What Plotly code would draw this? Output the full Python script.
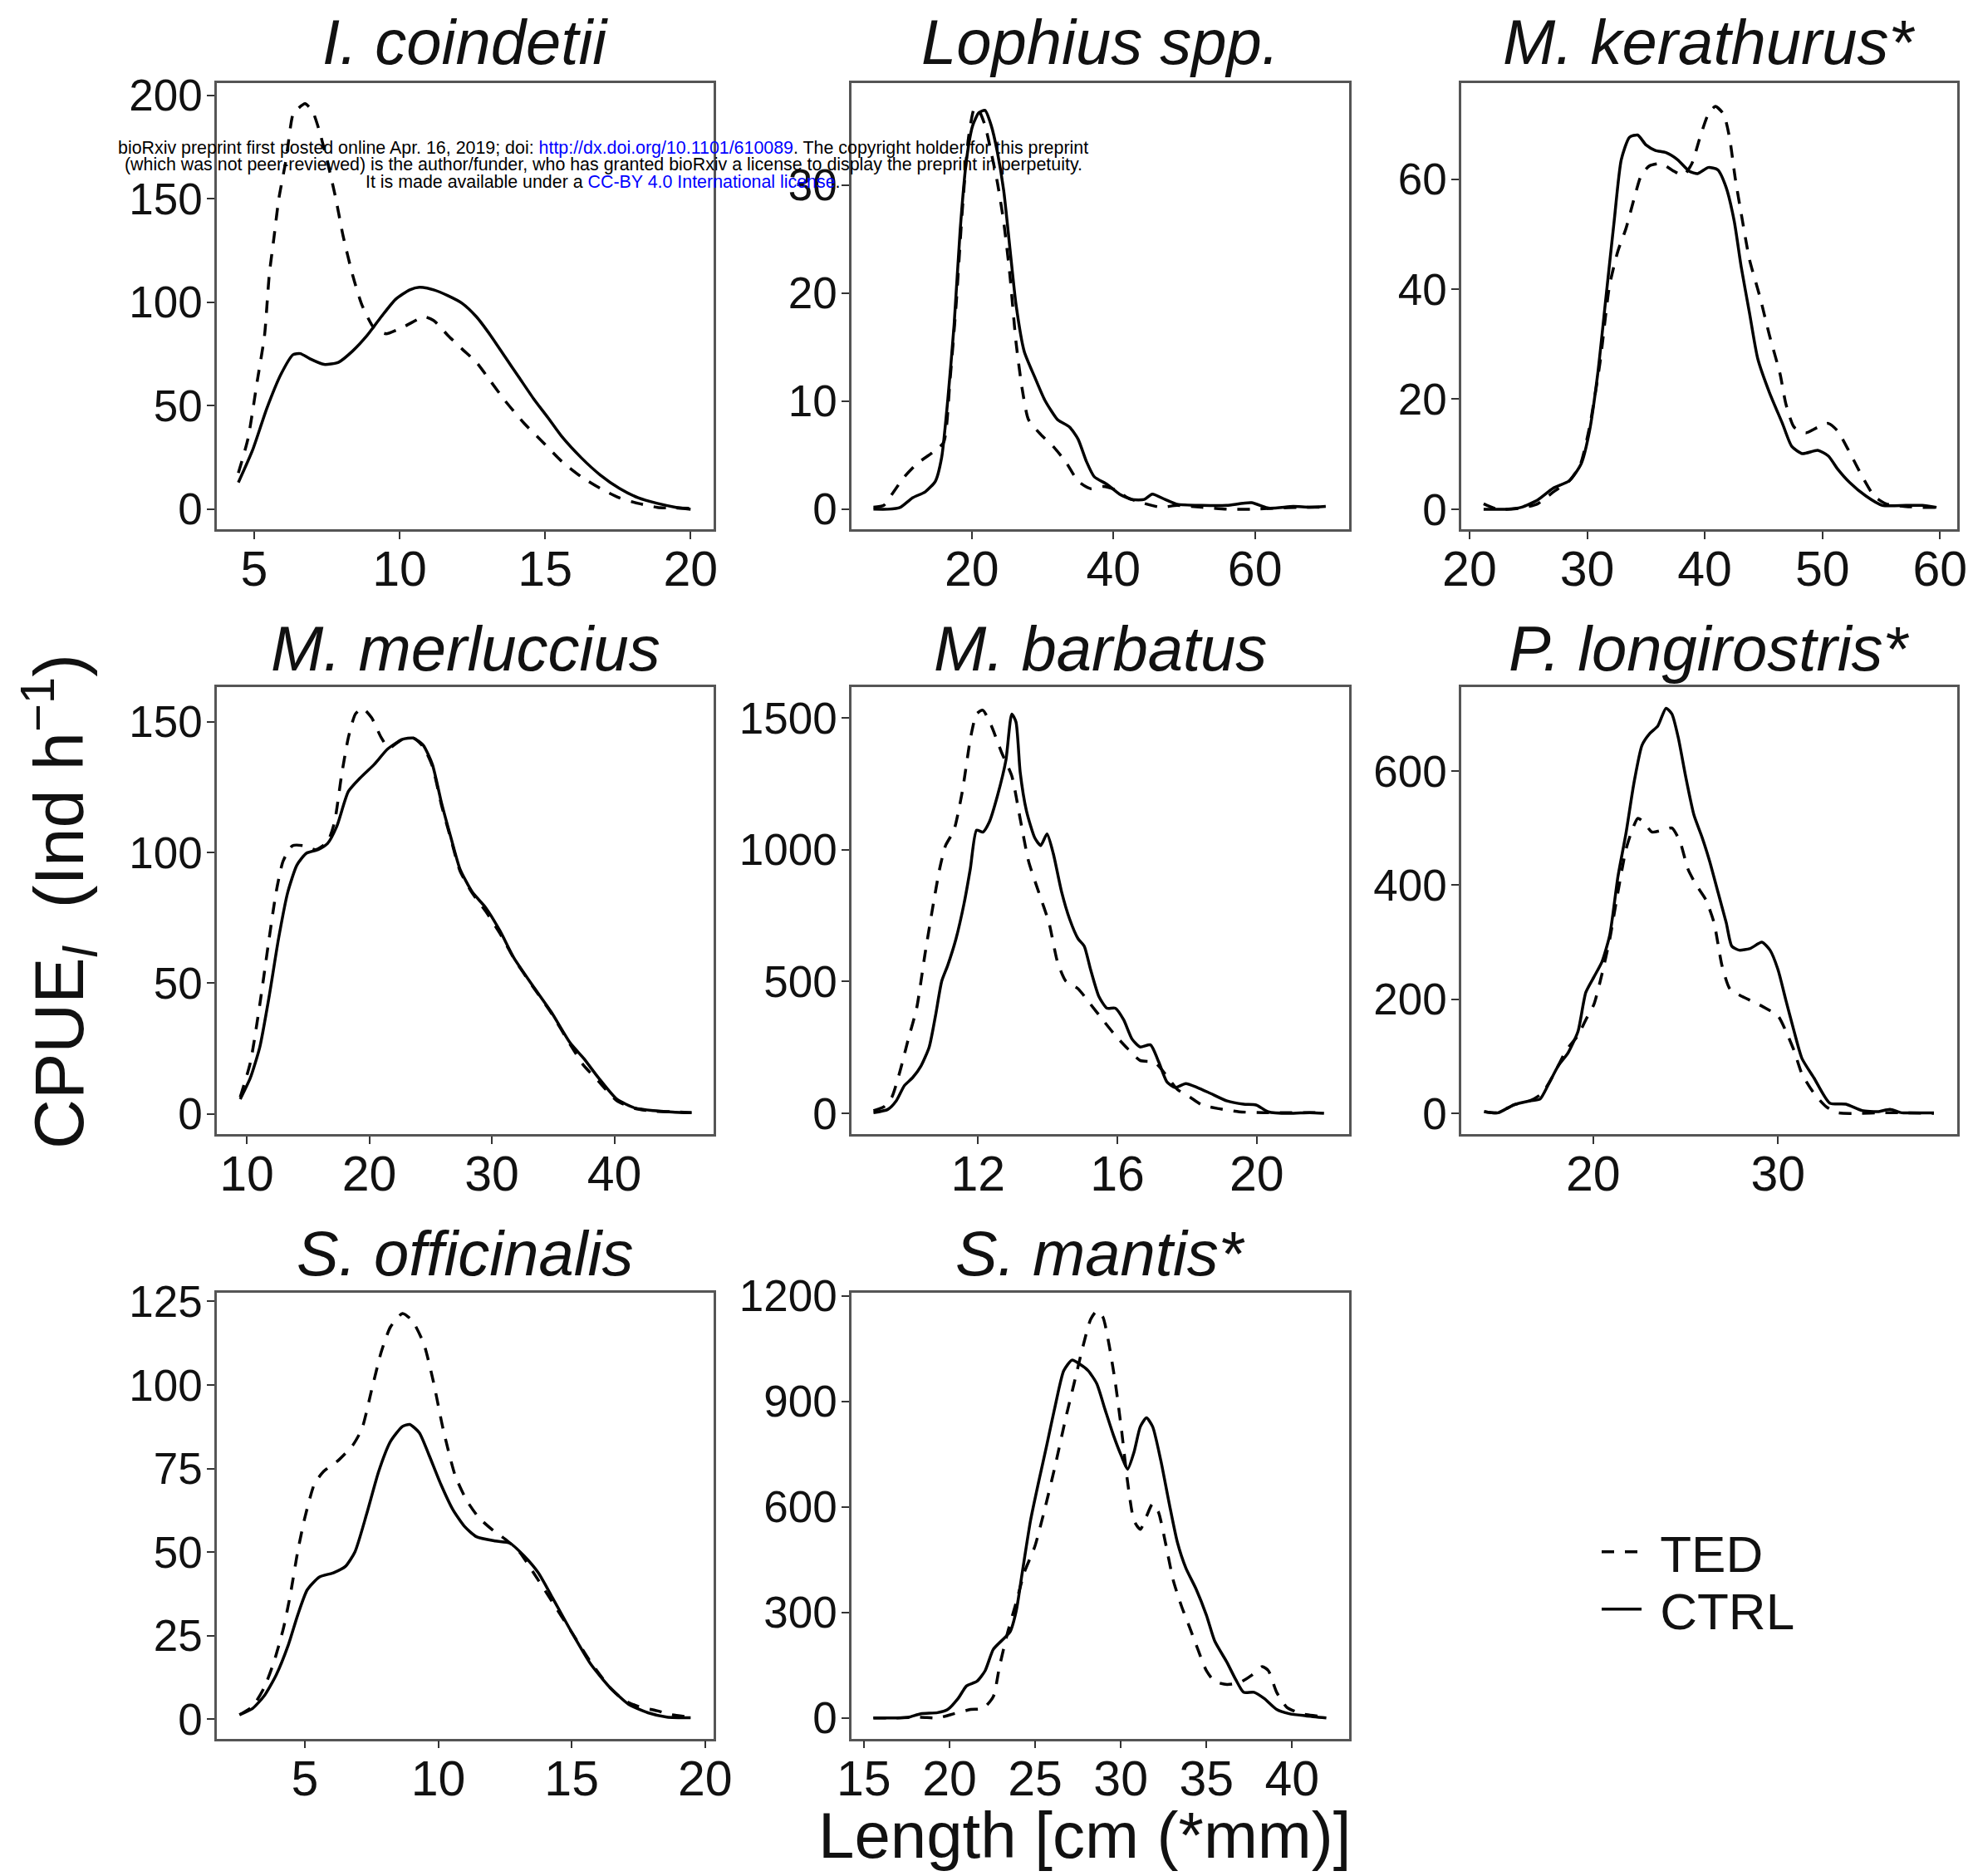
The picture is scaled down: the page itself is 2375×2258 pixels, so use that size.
import plotly.graph_objects as go

W, H = 2375, 2258

# ---------------- data ----------------
species = ["I. coindetii", "Lophius spp.", "M. kerathurus*", "M. merluccius",
           "M. barbatus", "P. longirostris*", "S. officinalis", "S. mantis*"]
series_names = ["TED", "CTRL"]

ic_len_ted = [4.46, 4.79, 5.11, 5.36, 5.52, 5.69, 5.85, 6.1, 6.34, 6.5, 6.75, 7.0, 7.24, 7.57, 7.81, 8.06, 8.39, 8.71,
              9.12, 9.53, 10.19, 10.84, 11.17, 11.66, 12.15, 12.64, 13.13, 13.62, 14.28, 14.93, 15.58, 16.24, 16.89,
              17.55, 18.2, 18.86, 19.5, 20.0]
ic_ted = [17.5, 34, 62, 84, 113, 132, 150, 169, 191, 193.5, 196, 192.6, 183, 165, 150, 132, 113, 98.6, 87.6, 84.8,
          88.5, 93, 91.2, 84, 77.4, 71, 61.8, 52.5, 41.5, 32.3, 23, 15.7, 10.1, 5.5, 2.8, 0.9, 0.55, 0.5]
ic_len_ctrl = [4.46, 4.95, 5.44, 5.93, 6.34, 6.59, 6.91, 7.4, 7.9, 8.39, 8.88, 9.37, 9.86, 10.35, 10.68, 11.17, 11.66,
               12.15, 12.64, 13.13, 13.62, 14.11, 14.6, 15.1, 15.58, 16.24, 16.89, 17.55, 18.2, 18.86, 19.5, 20.0]
ic_ctrl = [12.9, 28.6, 48.8, 65.4, 74.7, 75.2, 72.8, 70, 71, 76.5, 83.9, 93, 101.4, 106, 107.3, 106, 103.2, 99.5, 93,
           83.9, 73.7, 63.6, 53.5, 44.2, 35, 24.9, 16.6, 10.1, 5.5, 2.8, 0.9, 0]

lo_len_ted = [6.1, 7.56, 8.73, 10.48, 12.23, 14.57, 16.03, 16.9, 17.78, 18.66, 19.53, 20.41, 21.0, 21.87, 22.74, 23.62,
              24.5, 25.37, 26.25, 27.12, 28.0, 29.75, 31.5, 33.25, 35.0, 36.76, 38.5, 40.26, 42.0, 44.35, 46.7, 49.0,
              52.5, 56.0, 59.5, 63.0, 66.5, 70.0]
lo_ted = [0.18, 0.35, 1.4, 3.0, 4.2, 5.3, 6.2, 11.8, 18.9, 27.7, 34.4, 37.2, 36.9, 35.5, 33, 30.2, 26.6, 21.7, 15.4,
          11.1, 8.3, 6.9, 5.8, 4.4, 2.6, 1.9, 2.1, 1.8, 1.06, 0.53, 0.18, 0.35, 0.18, 0, 0, 0.1, 0.18, 0.18]
lo_len_ctrl = [6.1, 8.15, 9.9, 11.65, 13.4, 14.86, 15.74, 16.6, 17.5, 18.36, 19.24, 20.12, 21.0, 21.87, 22.74, 23.62,
               24.5, 25.37, 26.25, 27.4, 28.9, 30.3, 32.1, 33.8, 35.0, 36.2, 37.3, 39.1, 40.85, 42.6, 44.35, 45.5,
               47.3, 49.0, 52.5, 56.0, 59.5, 61.9, 65.4, 67.7, 70.0]
lo_ctrl = [0, 0, 0.18, 1.06, 1.6, 2.6, 4.8, 10.1, 17.1, 25.9, 32.3, 35.5, 36.7, 36.9, 35.5, 33, 29.5, 24.2, 18.9, 14.6,
           12.2, 10.1, 8.3, 7.6, 6.5, 4.4, 3.0, 2.3, 1.4, 0.9, 0.9, 1.4, 0.9, 0.46, 0.35, 0.35, 0.6, 0.1, 0.25, 0.18,
           0.25]

mk_len_ted = [21.2, 22.4, 24.4, 25.8, 27.1, 28.5, 29.4, 30.2, 31.1, 31.9, 32.6, 33.3, 34.0, 34.6, 35.3, 36.3, 37.4,
              38.2, 38.9, 39.6, 40.3, 40.9, 41.6, 42.1, 42.6, 43.1, 43.8, 44.7, 45.5, 46.4, 46.9, 47.6, 48.6, 49.6,
              50.5, 51.3, 52.3, 53.4, 54.4, 55.4, 57.1, 58.5, 59.7]
mk_ted = [1.0, 0, 0.2, 1.0, 3.1, 5.2, 8.0, 14.9, 26.7, 40.6, 46.8, 51, 56.5, 60.7, 62.4, 62.8, 61.4, 60.7, 62.8, 67.6,
          71.8, 73.2, 71.8, 67.6, 60, 53.7, 45.4, 38.5, 31.6, 24.6, 19.1, 14.9, 13.9, 14.9, 15.6, 14.2, 10.4, 5.9, 2.4,
          1.0, 0.5, 0.35, 0.35]
mk_len_ctrl = [21.2, 23.1, 24.4, 25.8, 27.1, 28.5, 29.5, 30.2, 30.9, 31.6, 32.3, 32.9, 33.6, 34.3, 35.0, 35.8, 36.7,
               37.7, 38.7, 39.4, 40.3, 41.1, 41.8, 42.5, 43.1, 43.8, 44.5, 45.5, 46.6, 47.4, 48.3, 49.6, 50.5, 51.3,
               52.3, 53.7, 55.1, 57.1, 58.5, 59.7]
mk_ctrl = [0, 0, 0.35, 1.7, 3.8, 5.2, 8.3, 14.2, 24.6, 38.5, 52.4, 63.5, 67.6, 68, 66.2, 65.2, 64.8, 63.5, 61.4, 61,
           62.1, 61.7, 58.6, 52.4, 44, 35.7, 27.4, 21.2, 15.6, 11.4, 10.1, 10.7, 9.7, 7.3, 4.9, 2.4, 0.7, 0.7, 0.7,
           0.35]

mm_len_ted = [9.47, 10.3, 11.07, 11.83, 12.4, 12.97, 13.73, 14.68, 15.63, 16.59, 17.16, 17.73, 18.3, 18.87, 19.44,
              20.2, 20.96, 21.6, 22.7, 23.6, 24.4, 25.15, 25.9, 26.67, 27.4, 28.4, 29.5, 30.67, 31.8, 33.3, 34.86,
              36.4, 37.5, 38.7, 40.2, 41.7, 43.2, 44.75, 46.3]
mm_ted = [6.4, 19.7, 41.9, 67.1, 84.8, 96.7, 102.6, 102.6, 101.1, 104.1, 111.5, 129.3, 144.1, 153, 155.2, 151.5,
          144.1, 140, 143.3, 143.8, 140.5, 133, 118, 105, 93, 84.5, 77.5, 69, 59.5, 49, 38.5, 26.5, 18.5, 12.5, 5.0,
          2.0, 1.0, 0.8, 0.4]
mm_len_ctrl = [9.47, 10.3, 11.07, 11.83, 12.6, 13.35, 14.1, 14.87, 15.82, 16.59, 17.35, 18.3, 19.25, 20.4, 21.5, 22.7,
               23.6, 24.4, 25.15, 25.9, 26.67, 27.4, 28.4, 29.5, 30.67, 31.8, 33.3, 34.86, 36.4, 37.5, 38.7, 40.2,
               41.7, 43.2, 44.75, 46.3]
mm_ctrl = [5.6, 13.8, 25.6, 44.9, 67.1, 84.8, 95.2, 99.7, 101.1, 103.4, 110, 123.4, 128.5, 133.7, 139.6, 143.3, 143.8,
           141.1, 133.7, 118.9, 105.6, 93.7, 84.9, 78.9, 70, 59.7, 49.3, 38.9, 27.1, 21.2, 13.8, 5.6, 2.2, 1.2, 0.7,
           0.4]

mb_len_ted = [9.0, 9.3, 9.53, 9.77, 10.0, 10.24, 10.48, 10.72, 10.9, 11.07, 11.31, 11.55, 11.79, 11.96, 12.14, 12.38,
              12.68, 12.97, 13.21, 13.45, 13.74, 14.04, 14.28, 14.52, 14.87, 15.23, 15.58, 15.94, 16.3, 16.65, 17.07,
              17.37, 17.72, 18.08, 18.43, 18.91, 19.5, 20.2, 21.0, 21.93]
mb_ted = [10, 25, 62, 164, 282, 399, 605, 796, 928, 1016, 1074, 1221, 1427, 1515, 1529, 1471, 1368, 1280, 1118, 957,
          840, 722, 575, 502, 473, 414, 355, 296, 245, 201, 194, 150, 91, 62, 32, 18, 6, 3, 3, 3]
mb_len_ctrl = [9.0, 9.41, 9.65, 9.89, 10.12, 10.36, 10.6, 10.78, 10.96, 11.13, 11.37, 11.6, 11.78, 11.96, 12.14,
               12.32, 12.56, 12.8, 12.97, 13.09, 13.21, 13.39, 13.63, 13.8, 13.98, 14.16, 14.4, 14.63, 14.87, 15.05,
               15.23, 15.47, 15.7, 15.94, 16.18, 16.42, 16.65, 16.95, 17.19, 17.42, 17.66, 17.96, 18.3, 18.67, 19.15,
               19.62, 19.98, 20.33, 20.93, 21.52, 21.93]
mb_ctrl = [3, 15, 47, 106, 135, 179, 252, 370, 502, 561, 663, 796, 928, 1074, 1067, 1104, 1206, 1339, 1515, 1485, 1295,
           1148, 1045, 1016, 1060, 986, 840, 737, 663, 634, 546, 443, 399, 399, 355, 282, 252, 260, 194, 120, 98, 113,
           98, 76, 47, 35, 32, 6, 0, 3, 0]

pl_len_ted = [14.1, 14.85, 15.7, 16.58, 17.23, 17.88, 18.53, 19.18, 19.6, 20.04, 20.48, 20.9, 21.34, 21.77, 22.1,
              22.42, 22.75, 23.18, 23.72, 24.26, 24.7, 25.13, 25.56, 26.1, 26.54, 26.97, 27.4, 28.05, 28.7, 29.35,
              30.0, 30.43, 30.87, 31.3, 31.95, 32.6, 33.25, 34.33, 35.63, 36.93, 38.44]
pl_ted = [3, 1, 15, 22, 35, 69, 110, 137, 164, 191, 245, 306, 388, 462, 496, 517, 510, 493, 496, 500, 476, 428, 401,
          374, 334, 259, 218, 205, 195, 184, 171, 144, 110, 69, 35, 12, 1, 0, 1, 1, 0]
pl_len_ctrl = [14.1, 14.85, 15.7, 16.58, 17.12, 17.55, 18.1, 18.64, 19.18, 19.6, 20.04, 20.48, 20.9, 21.34, 21.77,
               22.2, 22.64, 23.07, 23.5, 23.94, 24.26, 24.6, 25.0, 25.45, 25.9, 26.3, 26.75, 27.2, 27.5, 27.9, 28.5,
               29.13, 29.57, 30.0, 30.43, 30.87, 31.3, 31.95, 32.8, 33.68, 34.55, 35.4, 36.06, 36.7, 37.57, 38.44]
pl_ctrl = [3, 1, 15, 22, 25, 49, 83, 106, 144, 212, 239, 266, 313, 415, 490, 578, 645, 666, 679, 710, 700, 659, 591,
           523, 483, 442, 388, 334, 293, 286, 289, 300, 286, 252, 198, 144, 96, 62, 18, 16, 5, 3, 7, 1, 1, 1]

so_len_ted = [2.55, 3.04, 3.48, 3.84, 4.2, 4.46, 4.73, 5.0, 5.36, 5.71, 6.25, 6.79, 7.14, 7.5, 7.86, 8.21, 8.66, 9.02,
              9.46, 9.82, 10.18, 10.63, 11.07, 11.52, 12.05, 12.5, 13.04, 13.57, 14.29, 15.0, 15.71, 16.43, 16.96,
              17.5, 18.2, 18.75, 19.46]
so_ted = [1.3, 3.8, 9.5, 17.1, 27.3, 37.4, 50.1, 60.3, 70.4, 74.2, 77.4, 81.9, 86.9, 98.4, 109.8, 117.4, 121.4, 119.3,
          112.3, 100.9, 86.9, 73, 65.4, 60.3, 56.5, 53.9, 50.1, 43.8, 34.9, 26, 17.1, 9.5, 5.7, 3.8, 2.5, 1.3, 0.6]
so_len_ctrl = [2.55, 3.04, 3.48, 3.93, 4.38, 4.73, 5.09, 5.54, 6.07, 6.52, 6.88, 7.32, 7.77, 8.21, 8.66, 8.93, 9.29,
               9.64, 10.09, 10.54, 10.98, 11.43, 12.14, 12.68, 13.21, 13.75, 14.29, 15.0, 15.71, 16.43, 17.14, 17.86,
               18.57, 19.46]
so_ctrl = [1.3, 3.2, 7, 13.3, 22.2, 31.1, 38.7, 42.5, 43.8, 45.7, 50.1, 61.5, 74.2, 83.1, 87.6, 88.2, 85.7, 79.3, 70.4,
           62.8, 57.7, 54.6, 53.3, 52.7, 48.9, 43.8, 36.2, 26, 16.5, 9.5, 4.4, 1.9, 0.6, 0.4]

sm_len_ted = [15.56, 16.9, 18.33, 19.3, 20.27, 21.23, 21.96, 22.56, 22.92, 23.4, 23.9, 24.37, 24.98, 25.58, 26.18,
              26.79, 27.27, 27.75, 28.24, 28.6, 28.96, 29.32, 29.69, 30.05, 30.4, 30.77, 31.14, 31.5, 31.86, 32.2,
              32.6, 33.07, 33.55, 34.03, 34.5, 35.0, 35.48, 36.2, 36.93, 37.66, 38.26, 38.62, 39.1, 39.7, 40.56, 41.5,
              42.0]
sm_ted = [0, 0, 2, 0, 12, 24, 27, 61, 146, 244, 329, 414, 487, 597, 719, 853, 950, 1048, 1133, 1157, 1139, 1060, 950,
          816, 670, 561, 536, 573, 609, 585, 500, 390, 317, 256, 195, 134, 104, 95, 100, 122, 146, 134, 73, 30, 12, 5,
          0]
sm_len_ctrl = [15.56, 16.9, 17.6, 18.33, 19.3, 19.9, 20.5, 21.0, 21.6, 22.08, 22.56, 23.16, 23.53, 23.9, 24.25, 24.73,
               25.2, 25.7, 26.18, 26.67, 27.15, 27.63, 28.1, 28.6, 29.08, 29.57, 30.05, 30.4, 30.77, 31.14, 31.5,
               31.86, 32.34, 32.83, 33.3, 33.8, 34.4, 35.0, 35.48, 36.2, 36.7, 37.17, 37.78, 38.38, 39.1, 39.83, 40.8,
               42.0]
sm_ctrl = [0, 0, 2, 12, 15, 24, 55, 91, 104, 134, 195, 225, 244, 305, 414, 561, 670, 780, 889, 987, 1017, 1005, 987,
           950, 877, 804, 743, 707, 755, 828, 853, 828, 731, 609, 500, 426, 366, 292, 219, 158, 110, 73, 73, 55, 24,
           12, 6, 0]

ic_xticks = [5, 10, 15, 20];        ic_yticks = [0, 50, 100, 150, 200]
lo_xticks = [20, 40, 60];           lo_yticks = [0, 10, 20, 30]
mk_xticks = [20, 30, 40, 50, 60];   mk_yticks = [0, 20, 40, 60]
mm_xticks = [10, 20, 30, 40];       mm_yticks = [0, 50, 100, 150]
mb_xticks = [12, 16, 20];           mb_yticks = [0, 500, 1000, 1500]
pl_xticks = [20, 30];               pl_yticks = [0, 200, 400, 600]
so_xticks = [5, 10, 15, 20];        so_yticks = [0, 25, 50, 75, 100, 125]
sm_xticks = [15, 20, 25, 30, 35, 40]; sm_yticks = [0, 300, 600, 900, 1200]

x_title = "Length [cm (*mm)]"
y_title = "CPUE<sub><i>l</i></sub>\u00a0\u00a0(Ind h<sup>\u22121</sup>)"

panels = [
    (ic_len_ted, ic_ted, ic_len_ctrl, ic_ctrl, ic_xticks, ic_yticks),
    (lo_len_ted, lo_ted, lo_len_ctrl, lo_ctrl, lo_xticks, lo_yticks),
    (mk_len_ted, mk_ted, mk_len_ctrl, mk_ctrl, mk_xticks, mk_yticks),
    (mm_len_ted, mm_ted, mm_len_ctrl, mm_ctrl, mm_xticks, mm_yticks),
    (mb_len_ted, mb_ted, mb_len_ctrl, mb_ctrl, mb_xticks, mb_yticks),
    (pl_len_ted, pl_ted, pl_len_ctrl, pl_ctrl, pl_xticks, pl_yticks),
    (so_len_ted, so_ted, so_len_ctrl, so_ctrl, so_xticks, so_yticks),
    (sm_len_ted, sm_ted, sm_len_ctrl, sm_ctrl, sm_xticks, sm_yticks),
]

# ---------------- layout / style ----------------
FONT = "Liberation Sans, Arial, sans-serif"
cols = [(261, 859), (1025, 1624), (1759, 2356)]
rows = [(99.6, 636.8), (827.0, 1364.8), (1556.0, 2092.5)]
x_ranges = [(3.72, 20.79), (3.0, 73.3), (19.3, 61.46), (7.56, 48.1),
            (8.37, 22.65), (12.86, 39.7), (1.7, 20.32), (14.28, 43.33)]
y_ranges = [(-9.6, 206.1), (-1.84, 39.46), (-3.6, 77.5), (-7.7, 163.3),
            (-77.8, 1617), (-36, 747), (-5.8, 127.6), (-58.5, 1208.6)]
title_y = [50, 780, 1508]


def px(x):
    return x / W


def py(y):
    return 1 - y / H


fig = go.Figure()
layout = dict(width=W, height=H, margin=dict(l=0, r=0, t=0, b=0, pad=0, autoexpand=False),
              paper_bgcolor="white", plot_bgcolor="white", template="none",
              font=dict(family=FONT, color="black"))
annotations = []

line_w = 3.5
for i, (lt, vt, lc, vc, xt, yt) in enumerate(panels):
    r, c = divmod(i, 3)
    sfx = "" if i == 0 else str(i + 1)
    fig.add_trace(go.Scatter(x=lt, y=vt, mode="lines", name="\u00a0" + series_names[0],
                             line=dict(color="black", width=line_w, dash="15px,13px", shape="spline", smoothing=0.6),
                             xaxis="x" + sfx, yaxis="y" + sfx, showlegend=(i == 0), legend="legend",
                             hoverinfo="skip"))
    fig.add_trace(go.Scatter(x=lc, y=vc, mode="lines", name="\u00a0" + series_names[1],
                             line=dict(color="black", width=line_w, shape="spline", smoothing=0.6),
                             xaxis="x" + sfx, yaxis="y" + sfx, showlegend=(i == 0), legend="legend2",
                             hoverinfo="skip"))
    common = dict(showline=True, mirror=True, linecolor="#555555", linewidth=2.5, showgrid=False, zeroline=False,
                  ticks="outside", ticklen=9, tickwidth=2, tickcolor="#333333", automargin=False)
    layout["xaxis" + sfx] = dict(common, domain=[px(cols[c][0]), px(cols[c][1])], range=list(x_ranges[i]),
                                 anchor="y" + sfx, tickvals=xt, ticktext=[str(v) for v in xt],
                                 tickfont=dict(size=59, color="#111111"), ticklabelstandoff=-14)
    layout["yaxis" + sfx] = dict(common, domain=[py(rows[r][1]), py(rows[r][0])], range=list(y_ranges[i]),
                                 anchor="x" + sfx, tickvals=yt, ticktext=[str(v) for v in yt],
                                 tickfont=dict(size=53, color="#111111"), ticklabelstandoff=-5)
    annotations.append(dict(text="<i>" + species[i] + "</i>", x=px((cols[c][0] + cols[c][1]) / 2),
                            y=py(title_y[r]), xref="paper", yref="paper", xanchor="center", yanchor="middle",
                            showarrow=False, font=dict(size=76, color="#111111")))

annotations.append(dict(text=x_title, x=px(1306), y=py(2209), xref="paper", yref="paper", xanchor="center",
                        yanchor="middle", showarrow=False, font=dict(size=78, color="#111111")))
annotations.append(dict(text=y_title, x=px(70), y=py(1085), xref="paper", yref="paper", xanchor="center",
                        yanchor="middle", textangle=-90, showarrow=False, font=dict(size=83, color="#111111")))

blue = "<span style='color:#0000ff'>%s</span>"
header = [
    "bioRxiv preprint first posted online Apr. 16, 2019; doi: " + blue % "http://dx.doi.org/10.1101/610089"
    + ". The copyright holder for this preprint",
    "(which was not peer-reviewed) is the author/funder, who has granted bioRxiv a license to display the preprint in perpetuity.",
    "It is made available under a " + blue % "CC-BY 4.0 International license" + ".",
]
for k, (txt, yy) in enumerate(zip(header, [178, 198.5, 219])):
    annotations.append(dict(text=txt, x=px(726), y=py(yy), xref="paper", yref="paper", xanchor="center",
                            yanchor="middle", showarrow=False, font=dict(size=21.4, color="black")))

layout["annotations"] = annotations
leg_common = dict(font=dict(size=62, color="#111111"), bgcolor="rgba(0,0,0,0)", borderwidth=0,
                  xanchor="left", yanchor="middle", itemwidth=48, itemclick=False, itemdoubleclick=False)
layout["legend"] = dict(leg_common, x=px(1923), y=py(1868))
layout["legend2"] = dict(leg_common, x=px(1923), y=py(1937))
fig.update_layout(**layout)

fig.write_html("out.html")
